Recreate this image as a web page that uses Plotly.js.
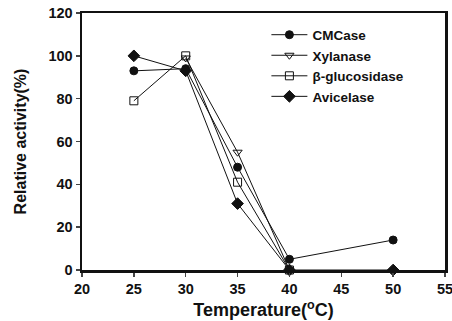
<!DOCTYPE html>
<html><head><meta charset="utf-8">
<script src="https://cdn.plot.ly/plotly-3.0.1.min.js"></script>
<style>html,body{margin:0;padding:0;background:#fff}#c{width:452px;height:321px}</style>
</head><body><div id="c"></div>
<script>
var cmcaseX = [25, 30, 35, 40, 50];
var cmcase = [93, 94, 48, 5, 14];
var xylanaseX = [30, 35, 40];
var xylanase = [99, 55, 0];
var glucosidaseX = [25, 30, 35, 40];
var glucosidase = [79, 100, 41, 0];
var avicelaseX = [25, 30, 35, 40, 50];
var avicelase = [100, 93, 31, 0, 0];
var names = ['CMCase', 'Xylanase', '&#946;-glucosidase', 'Avicelase'];
var xTicks = [20, 25, 30, 35, 40, 45, 50, 55];
var yTicks = [0, 20, 40, 60, 80, 100, 120];

var lineStyle = {color: '#111', width: 1};
var fam = 'Liberation Sans, Arial, sans-serif';
function tr(x, y, name, sym, size) {
  return {x: x, y: y, name: '<b>' + name + '</b>', type: 'scatter', mode: 'lines+markers', cliponaxis: false,
    line: lineStyle, marker: {symbol: sym, size: size, color: '#111', line: {color: '#111', width: 1}}};
}
var data = [
  tr(cmcaseX, cmcase, names[0], 'circle', 8),
  tr(xylanaseX, xylanase, names[1], 'triangle-down-open', 8),
  tr(glucosidaseX, glucosidase, names[2], 'square-open', 8),
  tr(avicelaseX, avicelase, names[3], 'diamond', 9)
];
function bold(a) { return a.map(function (v) { return '<b>' + v + '</b>'; }); }
var layout = {
  width: 452, height: 321,
  margin: {l: 82, r: 7, t: 13, b: 51},
  paper_bgcolor: '#fff', plot_bgcolor: '#fff',
  font: {family: fam, color: '#111', size: 13},
  showlegend: true,
  legend: {x: 0.508, y: 0.975, xanchor: 'left', yanchor: 'top', bgcolor: 'rgba(0,0,0,0)',
    font: {family: fam, size: 13.5, color: '#111'}, tracegroupgap: 0, itemwidth: 36},
  xaxis: {range: [20, 55], tickvals: xTicks, ticktext: bold(xTicks), ticks: 'outside', ticklen: 4,
    tickwidth: 1.5, showline: true, linewidth: 2.5, linecolor: '#111', mirror: true, showgrid: false,
    zeroline: false, ticklabeloverflow: 'allow', tickfont: {family: fam, size: 14.5},
    title: {text: '<b>Temperature(<sup>o</sup>C)</b>', font: {family: fam, size: 18}, standoff: 8}},
  yaxis: {range: [0, 120], tickvals: yTicks, ticktext: bold(yTicks), ticks: 'outside', ticklen: 4,
    tickwidth: 1.5, showline: true, linewidth: 2.5, linecolor: '#111', mirror: true, showgrid: false,
    zeroline: false, tickfont: {family: fam, size: 14.5},
    title: {text: '<b>Relative activity(%)</b>', font: {family: fam, size: 16}, standoff: 18}}
};
Plotly.newPlot('c', data, layout, {displayModeBar: false, staticPlot: true});
</script></body></html>
